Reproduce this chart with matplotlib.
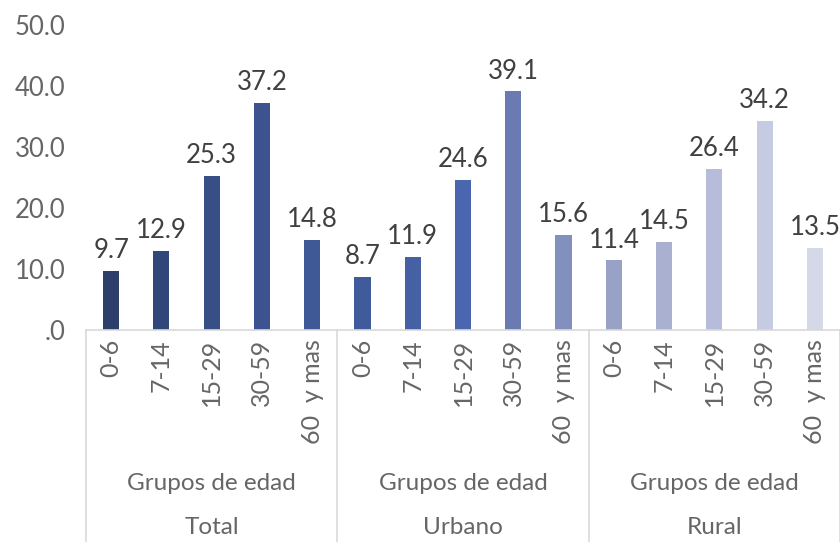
#!/usr/bin/env python3

import matplotlib
matplotlib.use("Agg")
import matplotlib.pyplot as plt
import matplotlib.transforms as mtransforms
from matplotlib.ticker import FuncFormatter

plt.rcParams["font.family"] = ["Lato", "DejaVu Sans"]

# data
areas = ["Total", "Urbano", "Rural"]
group_label = "Grupos de edad"
age_groups = ["0-6", "7-14", "15-29", "30-59", "60  y mas"]
values = [
    [9.7, 12.9, 25.3, 37.2, 14.8],   # Total
    [8.7, 11.9, 24.6, 39.1, 15.6],   # Urbano
    [11.4, 14.5, 26.4, 34.2, 13.5],  # Rural
]
bar_colors = [
    "#2d3e6b", "#31477a", "#374e86", "#3c538f", "#3f5997",
    "#405b9b", "#4561a4", "#4a66ae", "#6a7bb4", "#8290bd",
    "#98a2c6", "#a9b0d0", "#b6bcd9", "#c6cbe1", "#d4d8e7",
]

W, H = 840, 542
fig = plt.figure(figsize=(W / 100, H / 100), dpi=100)
ax_left, ax_right = 86 / W, 840 / W
y0_px, y50_px = 330, 25
ax = fig.add_axes([ax_left, 1 - y0_px / H, ax_right - ax_left, (y0_px - y50_px) / H])

n = len(age_groups)
xs, ys = [], []
for g, row in enumerate(values):
    for i, v in enumerate(row):
        xs.append(g * n + i)
        ys.append(v)

ax.bar(xs, ys, width=0.32, color=bar_colors, zorder=2)
for x, v in zip(xs, ys):
    ax.text(x, v + 1.3, f"{v:.1f}", ha="center", va="bottom",
            fontsize=18.5, color="#404040")

ax.set_xlim(-0.5, len(xs) - 0.5)
ax.set_ylim(0, 50)
ax.set_yticks([0, 10, 20, 30, 40, 50])
ax.yaxis.set_major_formatter(FuncFormatter(lambda v, p: ".0" if v == 0 else f"{v:.1f}"))
ax.tick_params(axis="y", length=0, pad=15, labelsize=18.5, labelcolor="#666666")
ax.set_xticks([])

for s in ("top", "right", "left"):
    ax.spines[s].set_visible(False)
ax.spines["bottom"].set_color("#d9d9d9")
ax.spines["bottom"].set_linewidth(1.2)

trans = mtransforms.blended_transform_factory(ax.transData, ax.transAxes)
px = 1 / (y0_px - y50_px)  # one pixel in axes units (y)
bottom = -(H - y0_px) * px

# group separators
for k in range(len(areas) + 1):
    ax.plot([k * n - 0.5] * 2, [0, bottom], transform=trans, color="#d9d9d9",
            lw=1.2, clip_on=False)

# category labels
for g in range(len(areas)):
    for i, lab in enumerate(age_groups):
        ax.text(g * n + i, -9 * px, lab, transform=trans, rotation=90,
                ha="center", va="top", fontsize=18, color="#666666")

for g, area in enumerate(areas):
    cx = g * n + (n - 1) / 2
    ax.text(cx, -(484 - y0_px) * px, group_label, transform=trans,
            ha="center", va="center", fontsize=17.5, color="#666666")
    ax.text(cx, -(528 - y0_px) * px, area, transform=trans,
            ha="center", va="center", fontsize=17.5, color="#666666")

fig.savefig("out.png", dpi=100)
